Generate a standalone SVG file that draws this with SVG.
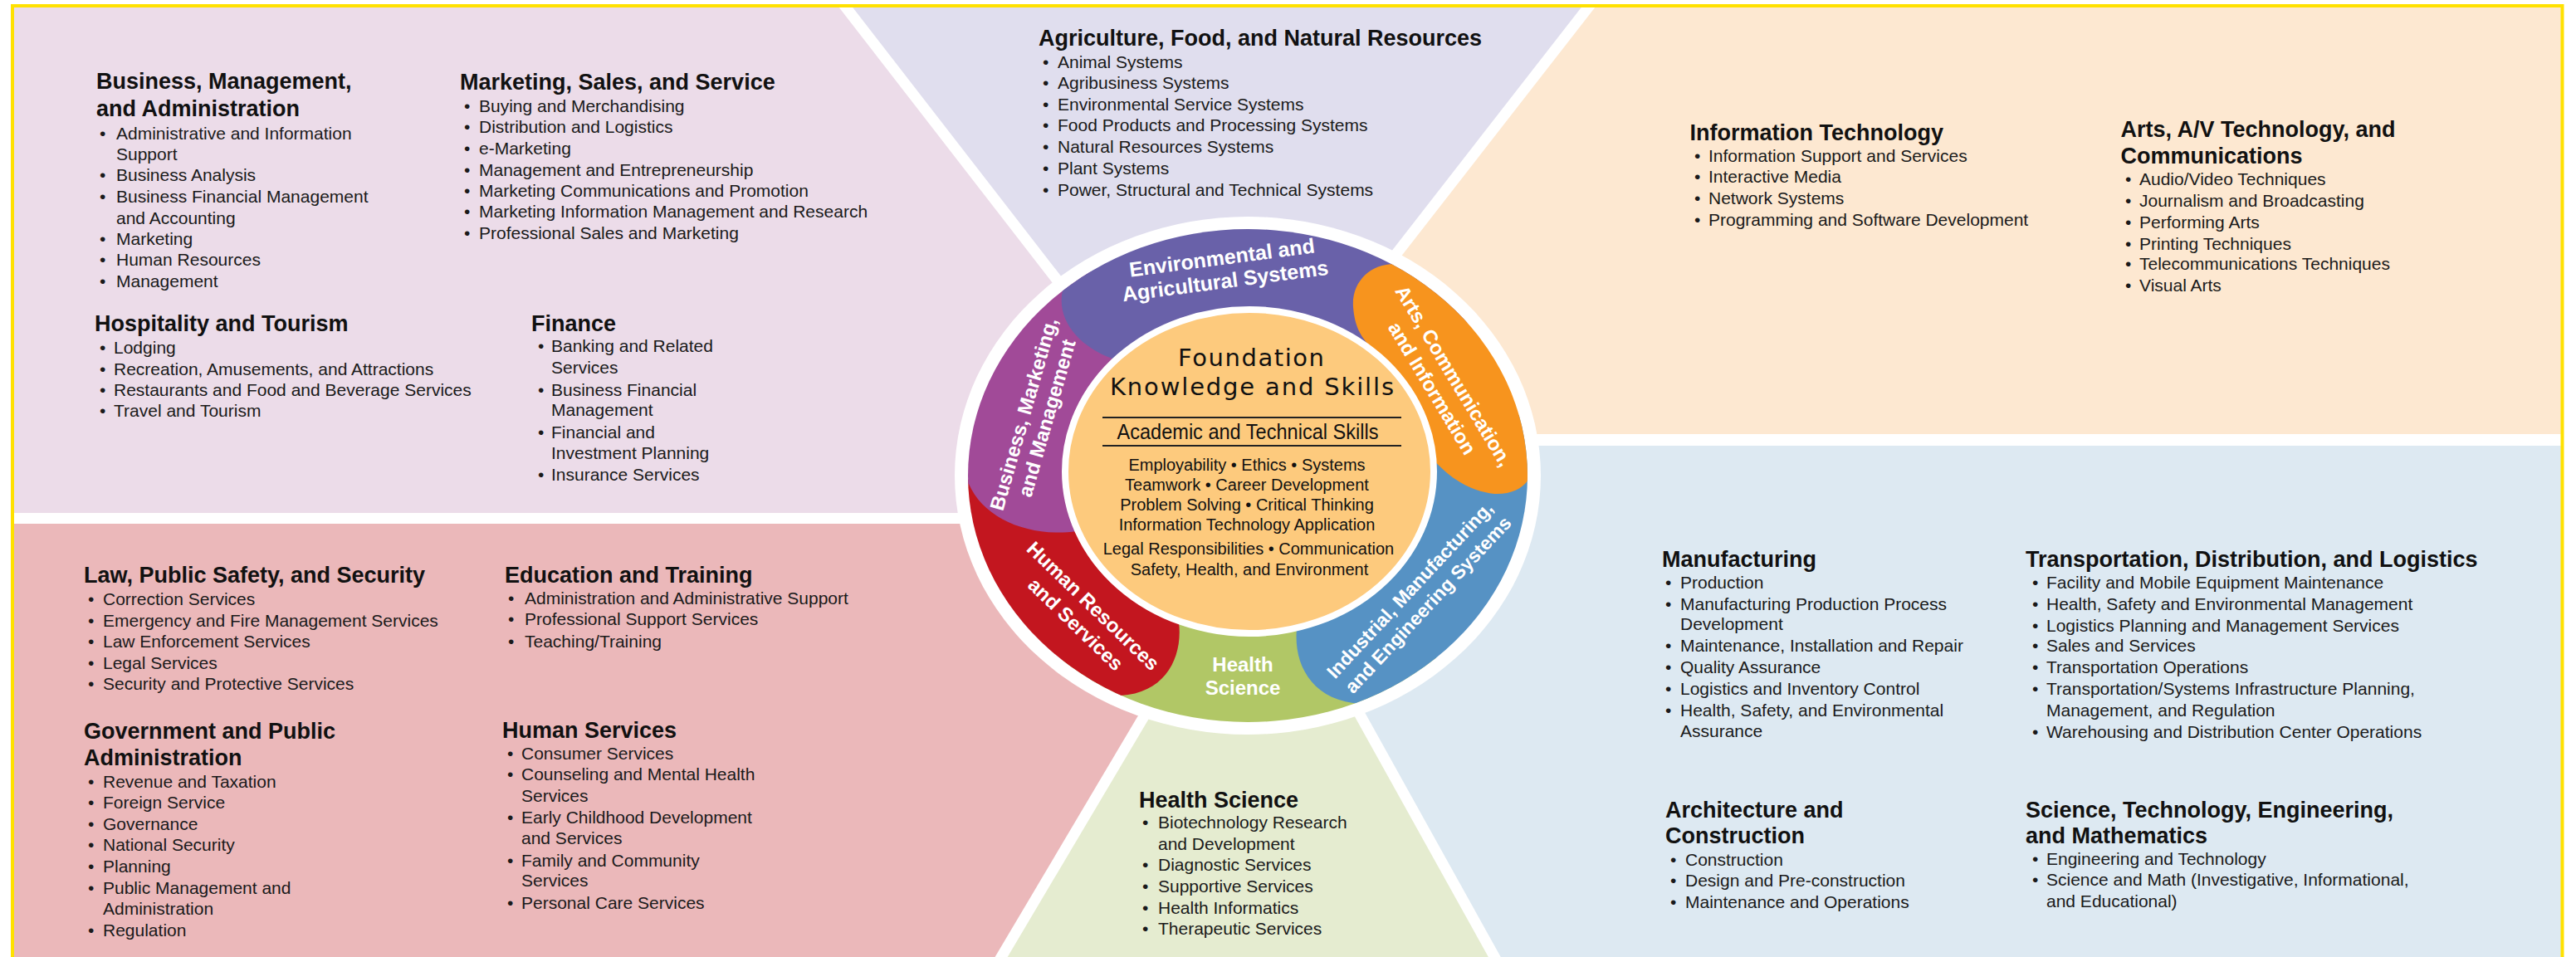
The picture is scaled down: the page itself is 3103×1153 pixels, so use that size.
<svg xmlns="http://www.w3.org/2000/svg" width="3103" height="1153" viewBox="0 0 3103 1153">
<style>
.h{font-family:"Liberation Sans",Arial,Helvetica,sans-serif;font-size:27px;font-weight:bold;fill:#111}
.b{font-family:"Liberation Sans",Arial,Helvetica,sans-serif;font-size:21px;fill:#1a1a1a}
.rl{font-family:"Liberation Sans",Arial,Helvetica,sans-serif;font-size:24px;font-weight:bold;fill:#fff;text-anchor:middle}
.sk{font-family:"Liberation Sans",Arial,Helvetica,sans-serif;font-size:20px;fill:#111;text-anchor:middle}
.fd{font-family:"DejaVu Sans",Verdana,sans-serif;font-size:29px;fill:#111;text-anchor:middle}
.sep{stroke:#fff;fill:none;stroke-width:13}
.rule{stroke:#222;stroke-width:2}
</style>
<defs>
<clipPath id="ring"><ellipse cx="1503" cy="573" rx="337" ry="297"/></clipPath>
</defs>
<rect width="3103" height="1153" fill="#fff"/>
<g id="regions">
<polygon points="17,9 1020,9 1456,573 1456,618 17,618" fill="#ECDCE9"/>
<polygon points="1020,9 1913,9 1474,573 1456,573" fill="#E0DEEE"/>
<polygon points="1913,9 3085,9 3085,530 1507,530" fill="#FDE8D1"/>
<polygon points="1507,530 3085,530 3085,1153 1800,1153 1478,573" fill="#DDE9F2"/>
<polygon points="1513,636 1800,1153 1206,1153" fill="#E5ECD0"/>
<polygon points="17,631 1516,631 1206,1153 17,1153" fill="#EBB8BA"/>
</g>
<g id="separators" class="sep">
<line x1="1012" y1="0" x2="1456" y2="573"/>
<line x1="1920" y1="0" x2="1474" y2="573"/>
<line x1="1500" y1="530" x2="3090" y2="530" stroke-width="14"/>
<line x1="1478" y1="573" x2="1807" y2="1165"/>
<line x1="1550" y1="573" x2="1199" y2="1165"/>
<line x1="0" y1="624.5" x2="1503" y2="624.5"/>
</g>
<path id="frame" d="M15,1153 V7 H3086.5 V1153" fill="none" stroke="#FFE100" stroke-width="4"/>

<g id="wheel">
<ellipse cx="1503" cy="573" rx="353" ry="312" fill="#fff"/>
<g id="seg-health-science">
<path clip-path="url(#ring)" d="M1280,640 H1730 V950 H1280 Z" fill="#B1C766"/>
<text class="rl" x="1497" y="809">Health</text>
<text class="rl" x="1497" y="837">Science</text>
</g>
<g id="seg-human-resources">
<path clip-path="url(#ring)" d="M1345,880 L1350,838 C1405,835 1425,790 1420,750 L1400,650 L1250,600 L1100,560 L1100,900 Z" fill="#C3161F"/>
<text class="rl" transform="translate(1311,736) rotate(44)">Human Resources</text>
<text class="rl" transform="translate(1290,758) rotate(44)">and Services</text>
</g>
<g id="seg-business-marketing">
<path clip-path="url(#ring)" d="M1100,585 L1167,583 C1185,625 1240,648 1297,640 L1400,560 L1350,400 L1300,300 L1100,300 Z" fill="#A14A98"/>
<text class="rl" transform="translate(1241,501) rotate(-74)">Business, Marketing,</text>
<text class="rl" transform="translate(1269,506) rotate(-74)">and Management</text>
</g>
<g id="seg-environmental">
<path clip-path="url(#ring)" d="M1262,330 L1280,350 C1272,385 1300,418 1340,432 L1400,470 L1650,480 L1760,400 L1900,200 L1250,200 Z" fill="#6961A9"/>
<text class="rl" style="font-size:25px" transform="translate(1473,319) rotate(-7.5)">Environmental and</text>
<text class="rl" style="font-size:25px" transform="translate(1477,347) rotate(-7.5)">Agricultural Systems</text>
</g>
<g id="seg-industrial">
<path clip-path="url(#ring)" d="M1655,880 L1640,848 C1580,845 1558,800 1562,758 L1600,650 L1700,540 L1800,500 L1950,500 L1950,900 Z" fill="#5692C4"/>
<text class="rl" style="font-size:23px" transform="translate(1704,716) rotate(-47)">Industrial, Manufacturing,</text>
<text class="rl" style="font-size:23px" transform="translate(1726,734) rotate(-47)">and Engineering Systems</text>
</g>
<g id="seg-arts">
<path clip-path="url(#ring)" d="M1700,290 L1680,318 C1650,318 1628,340 1630,370 C1632,395 1640,405 1648,415 L1600,450 L1700,540 L1725,552 C1745,575 1770,592 1800,595 C1825,596 1840,585 1845,570 L1880,560 L1880,290 Z" fill="#F7941E"/>
<text class="rl" transform="translate(1744,457) rotate(59)">Arts, Communication,</text>
<text class="rl" transform="translate(1718,472) rotate(59)">and Information</text>
</g>
<g id="foundation">
<ellipse cx="1505" cy="568" rx="222" ry="195" fill="#FDCA7D" stroke="#fff" stroke-width="8"/>
<text class="fd" x="1507" y="441" textLength="176" lengthAdjust="spacing">Foundation</text>
<text class="fd" x="1508" y="476" textLength="342" lengthAdjust="spacing">Knowledge and Skills</text>
<line class="rule" x1="1328" y1="503" x2="1688" y2="503"/>
<line class="rule" x1="1328" y1="537" x2="1688" y2="537"/>
<text class="sk" style="font-size:25px" x="1503" y="529" textLength="315" lengthAdjust="spacingAndGlyphs">Academic and Technical Skills</text>
<text class="sk" x="1502" y="567">Employability • Ethics • Systems</text>
<text class="sk" x="1502" y="591">Teamwork • Career Development</text>
<text class="sk" x="1502" y="615">Problem Solving • Critical Thinking</text>
<text class="sk" x="1502" y="639">Information Technology Application</text>
<text class="sk" x="1504" y="668">Legal Responsibilities • Communication</text>
<text class="sk" x="1505" y="693">Safety, Health, and Environment</text>
</g>
</g>

<g id="cluster-business-management">
<text class="h" x="116" y="107">Business, Management,</text>
<text class="h" x="116" y="140">and Administration</text>
<text class="b" y="168"><tspan x="120">•</tspan><tspan x="140">Administrative and Information</tspan></text>
<text class="b" x="140" y="193">Support</text>
<text class="b" y="218"><tspan x="120">•</tspan><tspan x="140">Business Analysis</tspan></text>
<text class="b" y="244"><tspan x="120">•</tspan><tspan x="140">Business Financial Management</tspan></text>
<text class="b" x="140" y="270">and Accounting</text>
<text class="b" y="295"><tspan x="120">•</tspan><tspan x="140">Marketing</tspan></text>
<text class="b" y="320"><tspan x="120">•</tspan><tspan x="140">Human Resources</tspan></text>
<text class="b" y="346"><tspan x="120">•</tspan><tspan x="140">Management</tspan></text>
</g>
<g id="cluster-marketing">
<text class="h" x="554" y="107.5">Marketing, Sales, and Service</text>
<text class="b" y="134.5"><tspan x="559">•</tspan><tspan x="577">Buying and Merchandising</tspan></text>
<text class="b" y="160"><tspan x="559">•</tspan><tspan x="577">Distribution and Logistics</tspan></text>
<text class="b" y="186"><tspan x="559">•</tspan><tspan x="577">e-Marketing</tspan></text>
<text class="b" y="211.5"><tspan x="559">•</tspan><tspan x="577">Management and Entrepreneurship</tspan></text>
<text class="b" y="236.5"><tspan x="559">•</tspan><tspan x="577">Marketing Communications and Promotion</tspan></text>
<text class="b" y="262"><tspan x="559">•</tspan><tspan x="577">Marketing Information Management and Research</tspan></text>
<text class="b" y="288"><tspan x="559">•</tspan><tspan x="577">Professional Sales and Marketing</tspan></text>
</g>
<g id="cluster-hospitality">
<text class="h" x="114" y="399">Hospitality and Tourism</text>
<text class="b" y="426"><tspan x="120">•</tspan><tspan x="137">Lodging</tspan></text>
<text class="b" y="451.5"><tspan x="120">•</tspan><tspan x="137">Recreation, Amusements, and Attractions</tspan></text>
<text class="b" y="476.5"><tspan x="120">•</tspan><tspan x="137">Restaurants and Food and Beverage Services</tspan></text>
<text class="b" y="502"><tspan x="120">•</tspan><tspan x="137">Travel and Tourism</tspan></text>
</g>
<g id="cluster-finance">
<text class="h" x="640" y="399">Finance</text>
<text class="b" y="424"><tspan x="648">•</tspan><tspan x="664">Banking and Related</tspan></text>
<text class="b" x="664" y="450">Services</text>
<text class="b" y="476.5"><tspan x="648">•</tspan><tspan x="664">Business Financial</tspan></text>
<text class="b" x="664" y="501">Management</text>
<text class="b" y="528"><tspan x="648">•</tspan><tspan x="664">Financial and</tspan></text>
<text class="b" x="664" y="553">Investment Planning</text>
<text class="b" y="578.5"><tspan x="648">•</tspan><tspan x="664">Insurance Services</tspan></text>
</g>
<g id="cluster-agriculture">
<text class="h" x="1251" y="55">Agriculture, Food, and Natural Resources</text>
<text class="b" y="81.7"><tspan x="1256">•</tspan><tspan x="1274">Animal Systems</tspan></text>
<text class="b" y="107"><tspan x="1256">•</tspan><tspan x="1274">Agribusiness Systems</tspan></text>
<text class="b" y="132.7"><tspan x="1256">•</tspan><tspan x="1274">Environmental Service Systems</tspan></text>
<text class="b" y="158"><tspan x="1256">•</tspan><tspan x="1274">Food Products and Processing Systems</tspan></text>
<text class="b" y="184"><tspan x="1256">•</tspan><tspan x="1274">Natural Resources Systems</tspan></text>
<text class="b" y="210"><tspan x="1256">•</tspan><tspan x="1274">Plant Systems</tspan></text>
<text class="b" y="235.7"><tspan x="1256">•</tspan><tspan x="1274">Power, Structural and Technical Systems</tspan></text>
</g>
<g id="cluster-information-technology">
<text class="h" x="2035.5" y="169">Information Technology</text>
<text class="b" y="194.5"><tspan x="2041">•</tspan><tspan x="2058">Information Support and Services</tspan></text>
<text class="b" y="220"><tspan x="2041">•</tspan><tspan x="2058">Interactive Media</tspan></text>
<text class="b" y="246"><tspan x="2041">•</tspan><tspan x="2058">Network Systems</tspan></text>
<text class="b" y="271.6"><tspan x="2041">•</tspan><tspan x="2058">Programming and Software Development</tspan></text>
</g>
<g id="cluster-arts-av">
<text class="h" x="2554.5" y="165">Arts, A/V Technology, and</text>
<text class="h" x="2554.5" y="196.5">Communications</text>
<text class="b" y="223.4"><tspan x="2560">•</tspan><tspan x="2577">Audio/Video Techniques</tspan></text>
<text class="b" y="249"><tspan x="2560">•</tspan><tspan x="2577">Journalism and Broadcasting</tspan></text>
<text class="b" y="275"><tspan x="2560">•</tspan><tspan x="2577">Performing Arts</tspan></text>
<text class="b" y="300.5"><tspan x="2560">•</tspan><tspan x="2577">Printing Techniques</tspan></text>
<text class="b" y="325.4"><tspan x="2560">•</tspan><tspan x="2577">Telecommunications Techniques</tspan></text>
<text class="b" y="351"><tspan x="2560">•</tspan><tspan x="2577">Visual Arts</tspan></text>
</g>
<g id="cluster-law">
<text class="h" x="101" y="702">Law, Public Safety, and Security</text>
<text class="b" y="728.7"><tspan x="106">•</tspan><tspan x="124">Correction Services</tspan></text>
<text class="b" y="754.5"><tspan x="106">•</tspan><tspan x="124">Emergency and Fire Management Services</tspan></text>
<text class="b" y="780"><tspan x="106">•</tspan><tspan x="124">Law Enforcement Services</tspan></text>
<text class="b" y="805.6"><tspan x="106">•</tspan><tspan x="124">Legal Services</tspan></text>
<text class="b" y="831"><tspan x="106">•</tspan><tspan x="124">Security and Protective Services</tspan></text>
</g>
<g id="cluster-education">
<text class="h" x="608" y="702">Education and Training</text>
<text class="b" y="727.7"><tspan x="612">•</tspan><tspan x="632">Administration and Administrative Support</tspan></text>
<text class="b" y="753.4"><tspan x="612">•</tspan><tspan x="632">Professional Support Services</tspan></text>
<text class="b" y="780"><tspan x="612">•</tspan><tspan x="632">Teaching/Training</tspan></text>
</g>
<g id="cluster-government">
<text class="h" x="101" y="890">Government and Public</text>
<text class="h" x="101" y="921.7">Administration</text>
<text class="b" y="949"><tspan x="106">•</tspan><tspan x="124">Revenue and Taxation</tspan></text>
<text class="b" y="974"><tspan x="106">•</tspan><tspan x="124">Foreign Service</tspan></text>
<text class="b" y="999.6"><tspan x="106">•</tspan><tspan x="124">Governance</tspan></text>
<text class="b" y="1025"><tspan x="106">•</tspan><tspan x="124">National Security</tspan></text>
<text class="b" y="1050.8"><tspan x="106">•</tspan><tspan x="124">Planning</tspan></text>
<text class="b" y="1077"><tspan x="106">•</tspan><tspan x="124">Public Management and</tspan></text>
<text class="b" x="124" y="1101.6">Administration</text>
<text class="b" y="1128"><tspan x="106">•</tspan><tspan x="124">Regulation</tspan></text>
</g>
<g id="cluster-human-services">
<text class="h" x="605" y="889">Human Services</text>
<text class="b" y="915"><tspan x="611">•</tspan><tspan x="628">Consumer Services</tspan></text>
<text class="b" y="940.4"><tspan x="611">•</tspan><tspan x="628">Counseling and Mental Health</tspan></text>
<text class="b" x="628" y="966">Services</text>
<text class="b" y="992"><tspan x="611">•</tspan><tspan x="628">Early Childhood Development</tspan></text>
<text class="b" x="628" y="1017">and Services</text>
<text class="b" y="1043.7"><tspan x="611">•</tspan><tspan x="628">Family and Community</tspan></text>
<text class="b" x="628" y="1068.4">Services</text>
<text class="b" y="1094.5"><tspan x="611">•</tspan><tspan x="628">Personal Care Services</tspan></text>
</g>
<g id="cluster-health-science">
<text class="h" x="1372" y="973">Health Science</text>
<text class="b" y="998"><tspan x="1376">•</tspan><tspan x="1395">Biotechnology Research</tspan></text>
<text class="b" x="1395" y="1024">and Development</text>
<text class="b" y="1049"><tspan x="1376">•</tspan><tspan x="1395">Diagnostic Services</tspan></text>
<text class="b" y="1075"><tspan x="1376">•</tspan><tspan x="1395">Supportive Services</tspan></text>
<text class="b" y="1101"><tspan x="1376">•</tspan><tspan x="1395">Health Informatics</tspan></text>
<text class="b" y="1126"><tspan x="1376">•</tspan><tspan x="1395">Therapeutic Services</tspan></text>
</g>
<g id="cluster-manufacturing">
<text class="h" x="2002" y="683">Manufacturing</text>
<text class="b" y="708.6"><tspan x="2006">•</tspan><tspan x="2024">Production</tspan></text>
<text class="b" y="734.7"><tspan x="2006">•</tspan><tspan x="2024">Manufacturing Production Process</tspan></text>
<text class="b" x="2024" y="759.4">Development</text>
<text class="b" y="785"><tspan x="2006">•</tspan><tspan x="2024">Maintenance, Installation and Repair</tspan></text>
<text class="b" y="811"><tspan x="2006">•</tspan><tspan x="2024">Quality Assurance</tspan></text>
<text class="b" y="837"><tspan x="2006">•</tspan><tspan x="2024">Logistics and Inventory Control</tspan></text>
<text class="b" y="862.8"><tspan x="2006">•</tspan><tspan x="2024">Health, Safety, and Environmental</tspan></text>
<text class="b" x="2024" y="887.5">Assurance</text>
</g>
<g id="cluster-transportation">
<text class="h" x="2440" y="683">Transportation, Distribution, and Logistics</text>
<text class="b" y="709.3"><tspan x="2448">•</tspan><tspan x="2465">Facility and Mobile Equipment Maintenance</tspan></text>
<text class="b" y="734.7"><tspan x="2448">•</tspan><tspan x="2465">Health, Safety and Environmental Management</tspan></text>
<text class="b" y="760.5"><tspan x="2448">•</tspan><tspan x="2465">Logistics Planning and Management Services</tspan></text>
<text class="b" y="785"><tspan x="2448">•</tspan><tspan x="2465">Sales and Services</tspan></text>
<text class="b" y="811"><tspan x="2448">•</tspan><tspan x="2465">Transportation Operations</tspan></text>
<text class="b" y="837"><tspan x="2448">•</tspan><tspan x="2465">Transportation/Systems Infrastructure Planning,</tspan></text>
<text class="b" x="2465" y="862.8">Management, and Regulation</text>
<text class="b" y="888.5"><tspan x="2448">•</tspan><tspan x="2465">Warehousing and Distribution Center Operations</tspan></text>
</g>
<g id="cluster-architecture">
<text class="h" x="2006" y="984.5">Architecture and</text>
<text class="h" x="2006" y="1016">Construction</text>
<text class="b" y="1042.7"><tspan x="2012">•</tspan><tspan x="2030">Construction</tspan></text>
<text class="b" y="1068.4"><tspan x="2012">•</tspan><tspan x="2030">Design and Pre-construction</tspan></text>
<text class="b" y="1093.8"><tspan x="2012">•</tspan><tspan x="2030">Maintenance and Operations</tspan></text>
</g>
<g id="cluster-stem">
<text class="h" x="2440" y="984.5">Science, Technology, Engineering,</text>
<text class="h" x="2440" y="1015.5">and Mathematics</text>
<text class="b" y="1041.6"><tspan x="2448">•</tspan><tspan x="2465">Engineering and Technology</tspan></text>
<text class="b" y="1067.4"><tspan x="2448">•</tspan><tspan x="2465">Science and Math (Investigative, Informational,</tspan></text>
<text class="b" x="2465" y="1092.8">and Educational)</text>
</g>
</svg>
